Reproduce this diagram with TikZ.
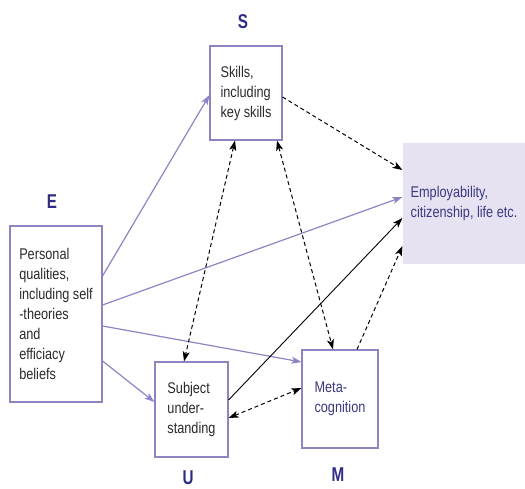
\documentclass[tikz,border=0pt]{standalone}
\usepackage{fontspec}
\setmainfont{Liberation Sans}
\newfontfamily\bodyfont[FakeStretch=0.82]{Liberation Sans}
\newfontfamily\letterfont[FakeStretch=0.76]{Liberation Sans}
\usetikzlibrary{arrows.meta}
\definecolor{lav}{HTML}{9083C3}
\definecolor{lavfill}{HTML}{E6E2F1}
\definecolor{navy}{HTML}{2E2C84}
\definecolor{txt}{HTML}{2A2A2A}
\definecolor{bluetxt}{HTML}{3B3880}
\tikzset{
  box/.style={draw=lav, line width=1.1pt, fill=white, align=left, anchor=center,
    inner sep=2pt, font=\bodyfont\fontsize{15.5}{20}\selectfont, text=txt},
  letter/.style={font=\letterfont\fontsize{20}{22}\selectfont\bfseries, text=navy},
  parrow/.style={draw=lav, line width=1.2pt, -{Stealth[length=10pt,width=7pt,inset=2.5pt]}},
  karrow/.style={draw=black, line width=0.9pt, -{Stealth[length=10pt,width=7pt,inset=2.5pt]}},
  darrow/.style={draw=black, line width=1pt, dash pattern=on 4pt off 3pt, -{Stealth[length=10pt,width=7pt,inset=2.5pt]}},
  ddarrow/.style={draw=black, line width=1pt, dash pattern=on 4pt off 3pt, {Stealth[length=10pt,width=7pt,inset=2.5pt]}-{Stealth[length=10pt,width=7pt,inset=2.5pt]}}
}
\begin{document}
\begin{tikzpicture}[x=1pt,y=-1pt]
\useasboundingbox (0,0) rectangle (525,489);
% boxes
\node[box, minimum width=72pt, minimum height=94pt] (S) at (246,93) {Skills,\\including\\key skills};
\node[box, minimum width=92pt, minimum height=176pt] (E) at (56,314) {Personal\\qualities,\\including self\\-theories\\and\\efficiacy\\beliefs};
\node[box, minimum width=73pt, minimum height=95pt] (U) at (191.5,409.5) {Subject\\under-\\standing};
\node[box, minimum width=76pt, minimum height=98pt, text=bluetxt] (M) at (340,399) {Meta-\\cognition};
\node[box, draw=none, fill=lavfill, minimum width=122pt, minimum height=121pt, text=bluetxt] (Emp) at (464,203.5) {Employability,\\citizenship, life etc.};
% letters
\node[letter] (lS) at (243,22) {S};
\node[letter] (lE) at (52,202) {E};
\node[letter] (lU) at (188,478) {U};
\node[letter] (lM) at (338,474.5) {M};
% purple arrows from E
\draw[parrow] (E.east |- 0,276) -- (S.west |- 0,95);
\draw[parrow] (E.east |- 0,305) -- (Emp.west |- 0,197);
\draw[parrow] (E.east |- 0,326) -- (M.west |- 0,362);
\draw[parrow] (E.east |- 0,361) -- (U.west |- 0,402);
% black arrows
\draw[darrow] (S.east |- 0,97) -- (Emp.west |- 0,170);
\draw[ddarrow] (S.south -| 235,0) -- (U.north -| 184,0);
\draw[ddarrow] (S.south -| 277,0) -- (M.north -| 333,0);
\draw[karrow] (U.east |- 0,400) -- (Emp.west |- 0,218);
\draw[darrow] (M.north -| 357,0) -- (Emp.west |- 0,246);
\draw[ddarrow] (U.east |- 0,418) -- (M.west |- 0,388);
\end{tikzpicture}
\end{document}
